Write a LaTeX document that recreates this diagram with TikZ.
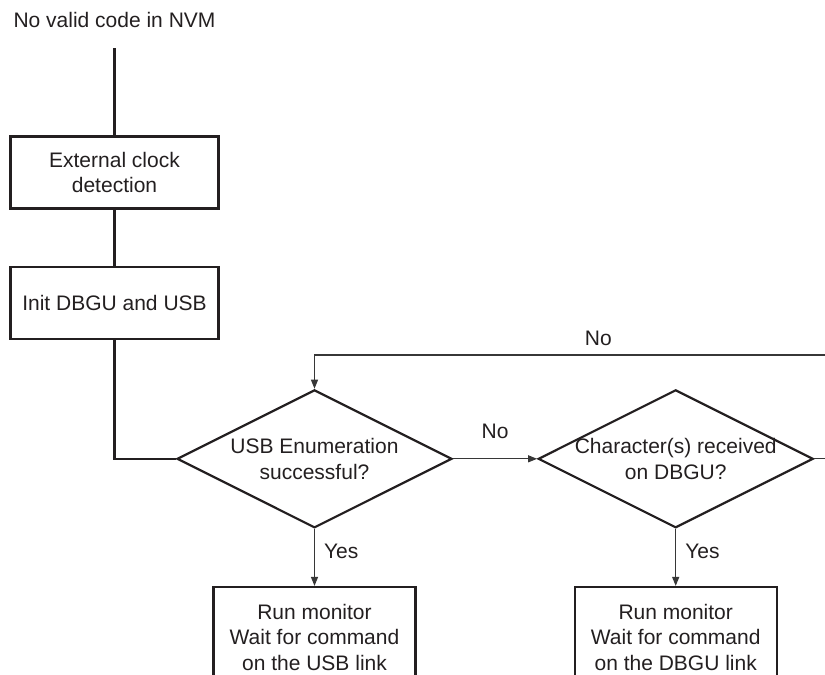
\documentclass[tikz,border=0pt]{standalone}
\usepackage{fontspec}
\setmainfont{Liberation Sans}
\usetikzlibrary{positioning}
\usetikzlibrary{shapes}
\usetikzlibrary{arrows.meta}
\definecolor{ink}{RGB}{35,31,32}
\definecolor{wirec}{RGB}{55,55,55}
\tikzstyle{txt} = [inner sep=0pt,text=ink]
\tikzstyle{proc} = [rectangle,draw=ink,line width=2.2pt,text=ink,align=center,inner sep=0pt]
\tikzstyle{dec} = [diamond,draw=ink,line width=2.2pt,inner sep=0pt,minimum width=275pt,minimum height=138pt]
\tikzstyle{wire} = [draw=ink,line width=2.2pt]
\tikzstyle{arr} = [->,draw=wirec,line width=1.2pt]
\tikzstyle{lab} = [inner sep=0pt,text=ink]
\tikzset{>={Triangle[length=9pt,width=7pt]}}

\begin{document}
\begin{tikzpicture}[x=1pt,y=1pt,font=\fontsize{21pt}{25.5pt}\selectfont]
  \useasboundingbox (0,0) rectangle (825,-675);
  \clip (0,0) rectangle (825,-675);

  \node [txt] (start) at (114.5,-20.4) {No valid code in NVM};
  \node [proc,minimum width=208pt,minimum height=72pt,below=107pt of start] (clk) {External clock\\detection};
  \node [proc,minimum width=208pt,minimum height=72pt,below=56pt of clk] (init) {Init DBGU and USB};

  \node [dec,below=49pt of init,xshift=200pt,label={[lab,align=center]center:USB Enumeration\\successful?}] (usb) {};
  \node [dec,right=84pt of usb,label={[lab,align=center]center:Character(s) received\\on DBGU?}] (chk) {};

  \node [proc,minimum width=202pt,minimum height=100pt,below=57pt of usb] (usbmon) {Run monitor\\Wait for command\\on the USB link};
  \node [proc,minimum width=202pt,minimum height=100pt,below=57pt of chk] (dbgumon) {Run monitor\\Wait for command\\on the DBGU link};

  \coordinate (back) at (840,-355);

  \draw [wire,shorten <=20pt] (start.south) -- (clk);
  \draw [wire] (clk) -- (init);
  \draw [wire] (init.south) |- (usb.west);

  \draw [arr] (usb) -- node [lab,above=20pt] {No} (chk);
  \draw [arr] (usb) -- node [lab,pos=0.4,right=9pt] {Yes} (usbmon);
  \draw [arr] (chk) -- node [lab,pos=0.4,right=9pt] {Yes} (dbgumon);
  \draw [arr] (chk.east) -| (back) -| node [lab,pos=0.23,above=9pt] {No} (usb.north);

\end{tikzpicture}
\end{document}
